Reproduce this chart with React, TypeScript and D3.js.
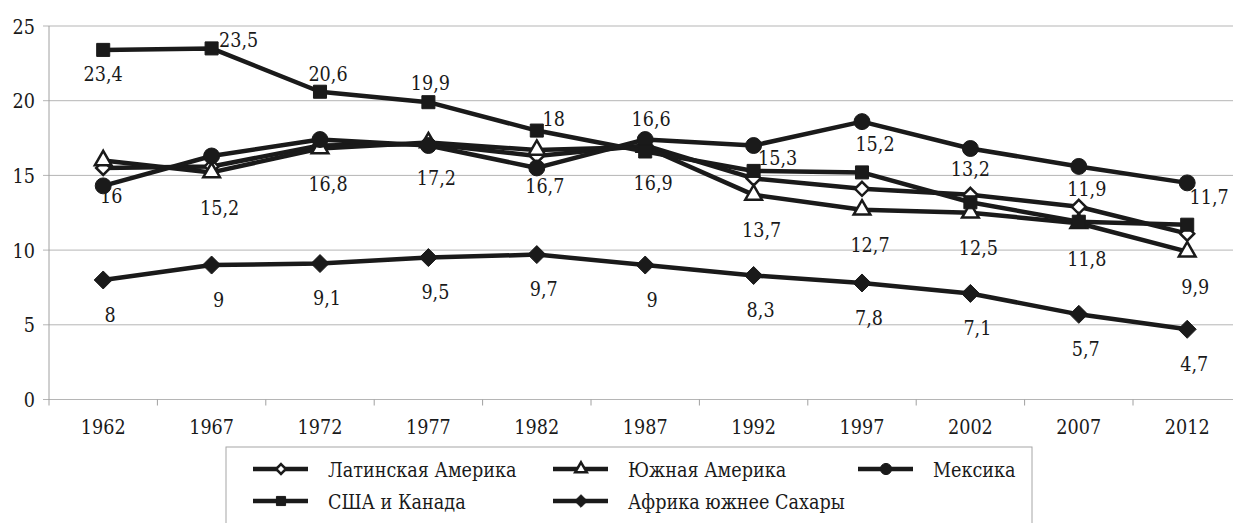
import { scaleBand, scaleLinear, line, symbol, symbolSquare, symbolCircle, symbolTriangle } from "d3";

const width = 1233;
const height = 523;

const years = ["1962", "1967", "1972", "1977", "1982", "1987", "1992", "1997", "2002", "2007", "2012"];
const yTicks = [0, 5, 10, 15, 20, 25];

const latinAmerica = [15.5, 15.6, 17.0, 17.1, 16.3, 17.0, 14.8, 14.1, 13.7, 12.9, 11.1];
const southAmerica = [16, 15.2, 16.8, 17.2, 16.7, 16.9, 13.7, 12.7, 12.5, 11.8, 9.9];
const mexico = [14.3, 16.3, 17.4, 17.0, 15.5, 17.4, 17.0, 18.6, 16.8, 15.6, 14.5];
const usaCanada = [23.4, 23.5, 20.6, 19.9, 18, 16.6, 15.3, 15.2, 13.2, 11.9, 11.7];
const africa = [8, 9, 9.1, 9.5, 9.7, 9, 8.3, 7.8, 7.1, 5.7, 4.7];

// where the data labels sit relative to their point (px)
const usaLabelOffsets = [
  [0, 24], [27, -9], [8, -18], [2, -20], [17, -12], [6, -33],
  [24, -13], [13, -29], [0, -34], [8, -33], [22, -28],
];

type Marker = "diamondOpen" | "triangleOpen" | "circle" | "square" | "diamond";

const series: { name: string; values: number[]; marker: Marker; labels?: number[][] | number[] }[] = [
  { name: "Латинская Америка", values: latinAmerica, marker: "diamondOpen" },
  { name: "Южная Америка", values: southAmerica, marker: "triangleOpen", labels: [8, 35] },
  { name: "Мексика", values: mexico, marker: "circle" },
  { name: "США и Канада", values: usaCanada, marker: "square", labels: usaLabelOffsets },
  { name: "Африка южнее Сахары", values: africa, marker: "diamond", labels: [7, 34] },
];

const legendSlots = [
  [0, 0], [1, 0], [2, 0], [0, 1], [1, 1],
];
const legendCols = [253, 553, 858];
const legendRows = [469, 501];

const fmt = (v: number) => String(v).replace(".", ",");

const x = scaleBand().domain(years).range([49, 1241.4]);
const y = scaleLinear().domain([0, 25]).range([399.5, 26]);

// DejaVu Serif squeezed a bit to look like the narrow Times face of the original
const Label = ({ x: tx, y: ty, anchor = "middle", children }: { x: number; y: number; anchor?: string; children: any }) => (
  <text
    transform={`translate(${tx},${ty}) scale(0.84,1)`}
    dy="0.36em"
    textAnchor={anchor}
    fontFamily="'DejaVu Serif', serif"
    fontSize={21}
    fill="#1a1a1a"
  >
    {children}
  </text>
);

const markerPath = (m: Marker, big: boolean) => {
  const k = big ? 1 : 0.7;
  if (m === "square") return symbol(symbolSquare, 170 * k * k)() || "";
  if (m === "circle") return symbol(symbolCircle, 200 * k * k)() || "";
  if (m === "triangleOpen") return symbol(symbolTriangle, 120 * k * k)() || "";
  const r = (m === "diamond" ? 9 : 7) * k;
  return `M0,${-r}L${r},0L0,${r}L${-r},0Z`;
};

const MarkerShape = ({ m, cx, cy, big }: { m: Marker; cx: number; cy: number; big: boolean }) => {
  const open = m === "diamondOpen" || m === "triangleOpen";
  return (
    <path
      d={markerPath(m, big)}
      transform={`translate(${cx},${cy})`}
      fill={open ? "#fff" : "#1a1a1a"}
      stroke="#1a1a1a"
      strokeWidth={open ? 2.5 : 1}
    />
  );
};

const App = () => {
  const cx = (i: number) => (x(years[i]) || 0) + x.bandwidth() / 2;
  const path = line<number>()
    .x((_, i) => cx(i))
    .y((d) => y(d));

  return (
    <svg width={width} height={height} style={{ position: "absolute", left: 0, top: 0, background: "#fff" }}>
      {yTicks.map((t) => (
        <g key={t}>
          <line x1={43} x2={width} y1={y(t)} y2={y(t)} stroke="#b5b5b5" strokeWidth={1} />
          <Label x={35} y={y(t)} anchor="end">{t}</Label>
        </g>
      ))}
      <line x1={49} x2={49} y1={y(25)} y2={y(0) + 6} stroke="#a0a0a0" />
      {years.map((yr, i) => (
        <g key={yr}>
          {i > 0 && <line x1={x(yr)} x2={x(yr)} y1={y(0)} y2={y(0) + 6} stroke="#a0a0a0" />}
          <Label x={cx(i)} y={426}>{yr}</Label>
        </g>
      ))}

      {series.map((s) => (
        <g key={s.name}>
          <path d={path(s.values) || ""} fill="none" stroke="#1a1a1a" strokeWidth={4.5} strokeLinejoin="round" />
          {s.values.map((v, i) => (
            <MarkerShape key={i} m={s.marker} cx={cx(i)} cy={y(v)} big />
          ))}
        </g>
      ))}

      {series.map((s) =>
        s.labels
          ? s.values.map((v, i) => {
              const off = (Array.isArray(s.labels![0]) ? (s.labels as number[][])[i] : s.labels) as number[];
              return (
                <Label key={s.name + i} x={cx(i) + off[0]} y={y(v) + off[1]}>
                  {fmt(v)}
                </Label>
              );
            })
          : null
      )}

      <rect x={226} y={447} width={806} height={90} fill="#fff" stroke="#a6a6a6" />
      {series.map((s, i) => {
        const lx = legendCols[legendSlots[i][0]];
        const ly = legendRows[legendSlots[i][1]];
        return (
          <g key={s.name}>
            <line x1={lx} x2={lx + 55} y1={ly} y2={ly} stroke="#1a1a1a" strokeWidth={4.5} />
            <MarkerShape m={s.marker} cx={lx + 28} cy={ly} big={false} />
            <Label x={lx + 75} y={ly} anchor="start">{s.name}</Label>
          </g>
        );
      })}
    </svg>
  );
};

export default App;
